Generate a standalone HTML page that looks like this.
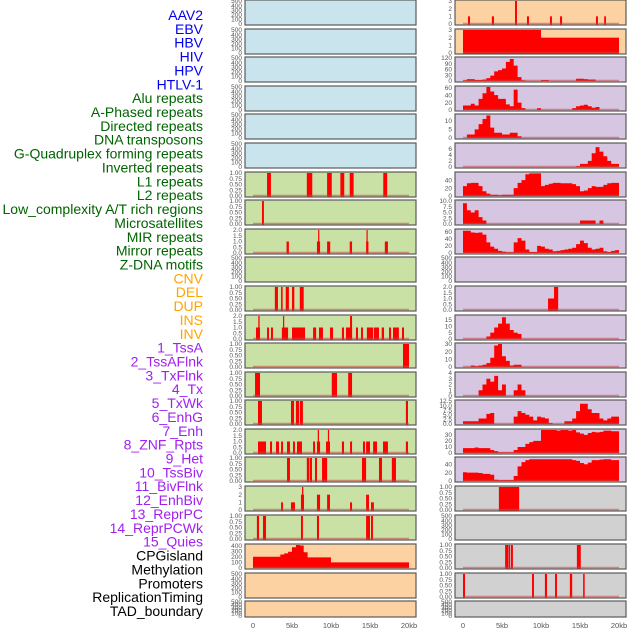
<!DOCTYPE html>
<html><head><meta charset="utf-8">
<style>
html,body{margin:0;padding:0;background:#fff;width:630px;height:630px;overflow:hidden}
svg{display:block}
</style></head>
<body>
<svg id="chart" width="630" height="630" xmlns="http://www.w3.org/2000/svg"></svg>
<script>
// ---------- data ----------
const labels = ["AAV2","EBV","HBV","HIV","HPV","HTLV-1","Alu repeats","A-Phased repeats","Directed repeats","DNA transposons","G-Quadruplex forming repeats","Inverted repeats","L1 repeats","L2 repeats","Low_complexity A/T rich regions","Microsatellites","MIR repeats","Mirror repeats","Z-DNA motifs","CNV","DEL","DUP","INS","INV","1_TssA","2_TssAFlnk","3_TxFlnk","4_Tx","5_TxWk","6_EnhG","7_Enh","8_ZNF_Rpts","9_Het","10_TssBiv","11_BivFlnk","12_EnhBiv","13_ReprPC","14_ReprPCWk","15_Quies","CPGisland","Methylation","Promoters","ReplicationTiming","TAD_boundary"];
const labelGroups = ["virus","virus","virus","virus","virus","virus","repeat","repeat","repeat","repeat","repeat","repeat","repeat","repeat","repeat","repeat","repeat","repeat","repeat","cnv","cnv","cnv","cnv","cnv","chromhmm","chromhmm","chromhmm","chromhmm","chromhmm","chromhmm","chromhmm","chromhmm","chromhmm","chromhmm","chromhmm","chromhmm","chromhmm","chromhmm","chromhmm","other","other","other","other","other"];
const xTicks = [0,5,10,15,20];
const xTickLabels = ["0","5kb","10kb","15kb","20kb"];

const emptyTicks = [0,100,200,300,400,500];
const binTicks = [0,0.25,0.5,0.75,1.0];
const binTickLabels = ["0.00","0.25","0.50","0.75","1.00"];
const twoTicks = [0,0.5,1.0,1.5,2.0];
const twoTickLabels = ["0.0","0.5","1.0","1.5","2.0"];

// bar events: [startKb, endKb, height]
const aluBars = [[1.8,2.3,1],[6.9,7.6,1],[9.5,10.1,1],[11.2,11.7,1],[12.4,12.9,1],[16.7,17.2,1]];
const aphasedBars = [[1.15,1.4,1]];
const directedBars = [[4.3,4.6,1],[8.2,8.6,1],[8.35,8.45,2],[9.5,9.9,1],[12.4,12.7,1],[14.5,14.8,1],[14.55,14.7,2],[16.9,17.3,1]];
const gquadBars = [[2.8,3.2,1],[3.6,3.8,1],[4.2,4.6,1],[5.0,5.3,1],[6.0,6.5,1]];
const invertedBars = [[0.38,0.9,1],[0.68,0.85,2],[1.8,2.05,1],[2.3,2.56,1],[3.7,4.5,1],[3.85,3.97,2],[5.0,6.67,1],[7.7,8.1,1],[8.46,8.97,1],[9.87,10.26,1],[11.4,11.67,1],[11.92,12.7,1],[12.44,12.7,2],[13.2,13.46,1],[13.85,14.1,1],[14.6,15.4,1],[15.5,16.15,1],[16.5,16.8,1],[17.44,17.7,1],[17.95,18.7,1],[19.1,19.36,1]];
const l1Bars = [[19.23,20.0,1]];
const l2Bars = [[0.26,0.9,1],[10.1,10.77,1],[12.2,12.7,1]];
const lowcompBars = [[0.64,1.15,1],[4.87,5.26,1],[5.5,5.9,1],[6.0,6.4,1],[19.6,19.87,1]];
const microBars = [[0.64,1.67,1],[2.18,2.44,1],[2.95,3.33,1],[3.6,3.85,1],[4.36,4.74,1],[5.13,5.38,1],[5.64,6.28,1],[7.7,7.95,1],[8.2,8.6,1],[8.3,8.46,2],[9.36,9.87,1],[9.6,9.74,2],[11.4,11.67,1],[12.44,12.7,1],[14.1,14.36,1],[14.5,15.0,1],[15.4,15.9,1],[16.67,17.3,1],[19.6,19.87,1]];
const mirBars = [[4.36,4.74,1],[6.9,7.18,1],[7.26,7.56,1],[7.95,8.2,1],[8.85,9.5,1],[13.97,14.5,1],[16.15,16.54,1],[17.8,18.33,1]];
const mirrorBars = [[3.6,3.85,1],[4.87,5.38,1],[6.15,6.54,2],[6.28,6.45,3],[8.2,8.6,2],[9.5,9.87,2],[12.44,12.7,1],[14.5,14.87,2],[15.13,15.5,1]];
const zdnaBars = [[0.5,0.77,1],[1.28,1.67,1],[6.15,6.4,1],[8.2,8.46,1],[14.5,15.0,1],[15.13,15.38,1]];
const insBars = [[0.64,0.9,1],[3.7,3.97,1],[6.67,6.92,3],[8.2,8.46,1],[11.15,11.4,1],[12.44,12.7,1],[17.05,17.3,1],[18.1,18.33,1]];
const invBars = [[0,10,3],[10,20,2]];
const hetBars = [[10.9,11.8,1],[11.67,12.2,2]];
const cpgBars = [[4.6,7.2,1]];
const promoterBars = [[5.4,5.77,1],[5.82,6.05,1],[6.15,6.4,1],[14.6,15.1,1]];
const reptimeBars = [[0,0.26,1],[8.85,9.1,1],[10.5,10.77,1],[11.8,12.05,1],[13.7,14.0,1],[15.4,15.6,1]];

// step histograms: 40 bins of 0.5 kb
const cnvBins = [200,200,200,200,200,200,200,240,260,290,370,410,400,280,190,190,190,190,190,190,100,100,100,100,100,100,100,100,100,100,100,100,100,100,100,100,100,100,100,100];
const tssaBins = [3,10,10,5,5,8,15,28,50,57,65,100,115,80,20,3,0,0,0,0,5,5,0,0,0,0,0,0,0,12,12,10,8,8,0,0,0,0,0,0];
const tssaflnkBins = [12,12,17,12,30,45,62,50,40,30,30,15,10,55,20,5,0,0,0,5,0,0,0,0,0,0,0,0,5,10,12,14,10,6,8,0,0,0,0,0];
const txflnkBins = [0,2,2,5,8,11,13,6,3,3,2,2,3,3,1,0,0,0,0,0,0,0,0,0,0,0,0,0,0,0,0,0,0,0,0,0,0,0,0,0];
const txBins = [0,0,0,0,0,0,0,0,0,0,0,0,0,0,0,0,0,0,0,0,0,0,0,0,0,0,0,0,0,0.3,1,1,2,4.5,6.5,5,3.5,2,1,1];
const txwkBins = [25,32,33,33,25,12,6,3,3,2,3,3,3,20,33,40,55,57,57,57,25,28,31,33,33,32,32,32,30,25,12,14,20,25,23,23,28,32,33,33];
const enhgBins = [9,6,5,6,3,1.5,0,0,0,0,0,0,0,0,0,0,0,0,0,0,0,0,0,0,0,0,0,0,0,0,1.5,1.5,1.5,1.5,0,1.5,0,0,0,0];
const enhBins = [63,63,58,57,58,52,30,18,12,6,4,2,2,30,42,35,10,3,3,20,18,12,10,5,6,8,10,12,15,25,35,28,15,10,12,15,5,3,6,8];
const tssbivBins = [0,0,0,0,0,0,2,5,9,12,17,12,7,5,4,0,0,0,0,0,0,0,0,0,0,0,0,0,0,0,0,0,0,0,0,0,0,0,0,0];
const bivflnkBins = [0,0,2,1,2,3,5,12,28,30,14,8,2,3,3,0,0,0,0,0,0,0,0,0,0,0,0,0,0,0,0,0,0,0,0,0,0,0,0,0];
const enhbivBins = [0,0,0,0,1,2,3,2.5,3.5,1,2,0,0,1,2,1,0,0,0,0,0,0,0,0,0,0,0,0,0,0,0,0,0,0,0,0,0,0,0,0];
const reprpcBins = [1.5,1.5,1.5,1.5,3,3,5.5,6,0,0,0,0,0,4,7,6,5,4,2,4,3.5,3,0.5,0,0,0,1.5,1.5,3,7,11,11,8,6,6,3,2,3,4,4];
const reprpcwkBins = [8,8,8,9,8,8,8,5,3,1,1,1,1,5,10,10,15,18,20,20,38,38,38,38,37,38,38,37,38,34,32,30,33,35,34,35,37,37,36,36];
const quiesBins = [21,20,20,20,19,17,17,15,3,2,2,2,2,12,35,45,50,52,52,52,52,52,52,52,52,52,52,52,50,48,43,40,44,50,50,51,52,52,50,50];

// panel specs: column, row, bg, kind, data, yMax, ticks, tickLabels
const BLUE="#c9e4ec",GREEN="#c9e1a5",ORANGE="#fdd2a3",PURPLE="#d6c6e1",GREY="#d1d1d1";
const panels = [
 {col:0,row:0,bg:BLUE,kind:"empty"},
 {col:0,row:1,bg:BLUE,kind:"empty"},
 {col:0,row:2,bg:BLUE,kind:"empty"},
 {col:0,row:3,bg:BLUE,kind:"empty"},
 {col:0,row:4,bg:BLUE,kind:"empty"},
 {col:0,row:5,bg:BLUE,kind:"empty"},
 {col:0,row:6,bg:GREEN,kind:"bars",data:aluBars,yMax:1,ticks:binTicks,tl:binTickLabels},
 {col:0,row:7,bg:GREEN,kind:"bars",data:aphasedBars,yMax:1,ticks:binTicks,tl:binTickLabels},
 {col:0,row:8,bg:GREEN,kind:"bars",data:directedBars,yMax:2,ticks:twoTicks,tl:twoTickLabels},
 {col:0,row:9,bg:GREEN,kind:"empty"},
 {col:0,row:10,bg:GREEN,kind:"bars",data:gquadBars,yMax:1,ticks:binTicks,tl:binTickLabels},
 {col:0,row:11,bg:GREEN,kind:"bars",data:invertedBars,yMax:2,ticks:twoTicks,tl:twoTickLabels},
 {col:0,row:12,bg:GREEN,kind:"bars",data:l1Bars,yMax:1,ticks:binTicks,tl:binTickLabels},
 {col:0,row:13,bg:GREEN,kind:"bars",data:l2Bars,yMax:1,ticks:binTicks,tl:binTickLabels},
 {col:0,row:14,bg:GREEN,kind:"bars",data:lowcompBars,yMax:1,ticks:binTicks,tl:binTickLabels},
 {col:0,row:15,bg:GREEN,kind:"bars",data:microBars,yMax:2,ticks:twoTicks,tl:twoTickLabels},
 {col:0,row:16,bg:GREEN,kind:"bars",data:mirBars,yMax:1,ticks:binTicks,tl:binTickLabels},
 {col:0,row:17,bg:GREEN,kind:"bars",data:mirrorBars,yMax:3,ticks:[0,1,2,3],tl:["0","1","2","3"]},
 {col:0,row:18,bg:GREEN,kind:"bars",data:zdnaBars,yMax:1,ticks:binTicks,tl:binTickLabels},
 {col:0,row:19,bg:ORANGE,kind:"area",data:cnvBins,yMax:410,ticks:[0,100,200,300,400],tl:["0","100","200","300","400"]},
 {col:0,row:20,bg:ORANGE,kind:"empty"},
 {col:0,row:21,bg:ORANGE,kind:"empty"},
 {col:1,row:0,bg:ORANGE,kind:"bars",data:insBars,yMax:3,ticks:[0,1,2,3],tl:["0","1","2","3"]},
 {col:1,row:1,bg:ORANGE,kind:"bars",data:invBars,yMax:3,ticks:[0,1,2,3],tl:["0","1","2","3"]},
 {col:1,row:2,bg:PURPLE,kind:"area",data:tssaBins,yMax:120,ticks:[0,30,60,90,120],tl:["0","30","60","90","120"]},
 {col:1,row:3,bg:PURPLE,kind:"area",data:tssaflnkBins,yMax:62,ticks:[0,20,40,60],tl:["0","20","40","60"]},
 {col:1,row:4,bg:PURPLE,kind:"area",data:txflnkBins,yMax:13.3,ticks:[0,5,10],tl:["0","5","10"]},
 {col:1,row:5,bg:PURPLE,kind:"area",data:txBins,yMax:7.5,ticks:[0,2,4,6],tl:["0","2","4","6"]},
 {col:1,row:6,bg:PURPLE,kind:"area",data:txwkBins,yMax:58,ticks:[0,20,40],tl:["0","20","40"]},
 {col:1,row:7,bg:PURPLE,kind:"area",data:enhgBins,yMax:10,ticks:[0,2.5,5,7.5,10],tl:["0.0","2.5","5.0","7.5","10.0"]},
 {col:1,row:8,bg:PURPLE,kind:"area",data:enhBins,yMax:65,ticks:[0,20,40,60],tl:["0","20","40","60"]},
 {col:1,row:9,bg:PURPLE,kind:"empty"},
 {col:1,row:10,bg:PURPLE,kind:"bars",data:hetBars,yMax:2,ticks:twoTicks,tl:twoTickLabels},
 {col:1,row:11,bg:PURPLE,kind:"area",data:tssbivBins,yMax:18,ticks:[0,5,10,15],tl:["0","5","10","15"]},
 {col:1,row:12,bg:PURPLE,kind:"area",data:bivflnkBins,yMax:30,ticks:[0,10,20,30],tl:["0","10","20","30"]},
 {col:1,row:13,bg:PURPLE,kind:"area",data:enhbivBins,yMax:4,ticks:[0,1,2,3,4],tl:["0","1","2","3","4"]},
 {col:1,row:14,bg:PURPLE,kind:"area",data:reprpcBins,yMax:12.5,ticks:[0,2.5,5,7.5,10,12.5],tl:["0.0","2.5","5.0","7.5","10.0","12.5"]},
 {col:1,row:15,bg:PURPLE,kind:"area",data:reprpcwkBins,yMax:38,ticks:[0,10,20,30],tl:["0","10","20","30"]},
 {col:1,row:16,bg:PURPLE,kind:"area",data:quiesBins,yMax:55,ticks:[0,20,40],tl:["0","20","40"]},
 {col:1,row:17,bg:GREY,kind:"bars",data:cpgBars,yMax:1,ticks:binTicks,tl:binTickLabels},
 {col:1,row:18,bg:GREY,kind:"empty"},
 {col:1,row:19,bg:GREY,kind:"bars",data:promoterBars,yMax:1,ticks:binTicks,tl:binTickLabels},
 {col:1,row:20,bg:GREY,kind:"bars",data:reptimeBars,yMax:1,ticks:binTicks,tl:binTickLabels},
 {col:1,row:21,bg:GREY,kind:"empty"}
];

// ---------- layout ----------
const NS="http://www.w3.org/2000/svg";
const svg=document.getElementById("chart");
const colX=[245,455], panelW=171;
const rowTops=[0,29,57,86,114,143,172,200,229,257,286,315,343,372,400,429,457,486,515,544,573,601];
const groupColor={virus:"#0000ee",repeat:"#006400",cnv:"#ffa500",chromhmm:"#a020f0",other:"#000000"};
function mk(tag,attrs){const e=document.createElementNS(NS,tag);for(const k in attrs)e.setAttribute(k,attrs[k]);svg.appendChild(e);return e;}
function xScale(col,kb){return colX[col]+8+kb*7.8;}

// row labels
labels.forEach((t,i)=>{
  const e=mk("text",{x:203,y:15+i*13.86+5,"text-anchor":"end","font-size":"14","font-family":"Liberation Sans, sans-serif",fill:groupColor[labelGroups[i]]});
  e.textContent=t;
  
  
});

panels.forEach((p,pi)=>{
  const top=rowTops[p.row], h=(p.row===21?16:25), x0=colX[p.col];
  const bg=mk("rect",{x:x0,y:top,width:panelW,height:h,fill:p.bg,stroke:"#5a5a5a","stroke-width":1.2});
  
  
  const zeroY=top+h-1, topY=top+1;
  let ticks=p.ticks, tl=p.tl, yMax=p.yMax;
  if(p.kind==="empty"){ticks=emptyTicks;tl=emptyTicks.map(String);yMax=500;}
  const yS=v=>zeroY-(v/yMax)*(zeroY-topY);
  ticks.forEach((t,k)=>{
    const tx=mk("text",{x:x0-3,y:yS(t)+2.2,"text-anchor":"end","font-size":"6.5","font-family":"Liberation Sans, sans-serif",fill:"#555"});
    tx.textContent=tl[k];
    
    
  });
  if(p.kind==="bars"){
    p.data.forEach(b=>{
      const xa=xScale(p.col,b[0]), xb=xScale(p.col,b[1]);
      const r=mk("rect",{x:xa,y:yS(b[2]),width:Math.max(1.2,xb-xa),height:zeroY-yS(b[2])+0.5,fill:"#ff0000"});
      
      
    });
  } else if(p.kind==="area"){
    let d="M"+xScale(p.col,0)+","+zeroY;
    p.data.forEach((v,i)=>{
      const xa=xScale(p.col,i*0.5), xb=xScale(p.col,(i+1)*0.5);
      d+=" L"+xa+","+yS(v)+" L"+xb+","+yS(v);
    });
    d+=" L"+xScale(p.col,20)+","+zeroY+" Z";
    const a=mk("path",{d:d,fill:"#ff0000",stroke:"none"});
    
    
  }
  if(p.kind!=="empty"){
    const bl=mk("line",{x1:xScale(p.col,0),x2:xScale(p.col,20),y1:zeroY-0.5,y2:zeroY-0.5,stroke:"rgba(200,70,70,0.55)","stroke-width":1.5});
    
    
  }
});

// x-axis tick labels
[0,1].forEach(c=>{
  xTicks.forEach((t,k)=>{
    const e=mk("text",{x:xScale(c,t),y:628,"text-anchor":"middle","font-size":"7.5","font-family":"Liberation Sans, sans-serif",fill:"#555"});
    e.textContent=xTickLabels[k];
    
    
  });
});
</script>
</body></html>
